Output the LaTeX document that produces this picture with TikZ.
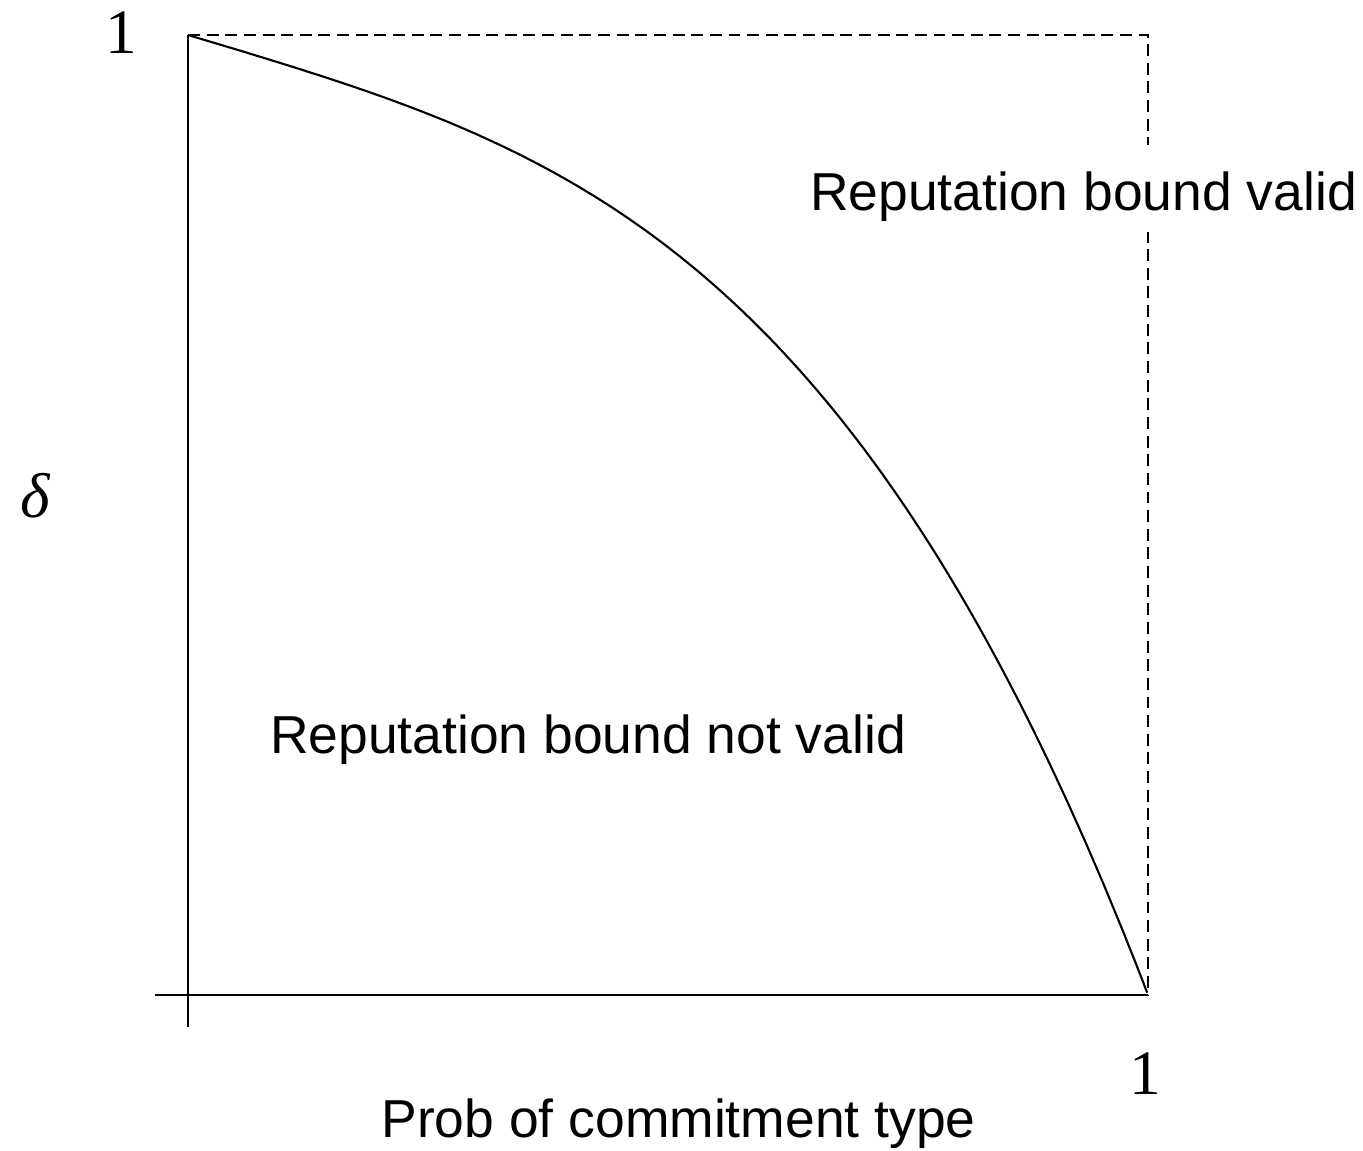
\documentclass[tikz,border=0pt]{standalone}
\usepackage{fontspec}
\setmainfont{Liberation Serif}
\newfontfamily\labelfont{Liberation Sans}
\begin{document}
\begin{tikzpicture}[x=0.01cm,y=-0.01cm,
  axisline/.style={line width=0.6pt},
  guideline/.style={line width=0.6pt, dash pattern=on 3.4pt off 1.9pt},
  curveline/.style={line width=0.6pt, line join=round},
  sanslabel/.style={font=\labelfont\fontsize{15.2pt}{18pt}\selectfont, inner sep=0pt, anchor=base},
  seriflabel/.style={font=\fontsize{18pt}{21pt}\selectfont, inner sep=0pt, anchor=base}]
\useasboundingbox (0,0) rectangle (1363,1151);
% coordinates
\coordinate (ytop) at (188,35);
\coordinate (ybot) at (188,1027);
\coordinate (xleft) at (155,995);
\coordinate (xright) at (1148,995);
\coordinate (corner) at (1148,35);
% axes
\draw[axisline] (ybot) -- (ytop);
\draw[axisline] (xleft) -- (xright);
% dashed box
\draw[guideline] (ytop) -- (corner) -- (xright);
% curve
\draw[curveline] (ytop) -- plot[domain=0.002:1, samples=160, variable=\t]
  ({188+960*\t}, {35+960*(0.3*\t+0.7*pow(\t,3.3))});
% labels
\node[sanslabel, fill=white, text height=0.65cm, text depth=0.22cm] (valid) at (1083.5,210) {Reputation bound valid};
\node[sanslabel] (notvalid) at (588,753) {Reputation bound not valid};
\node[sanslabel] (xlabel) at (678.5,1137) {Prob of commitment type};
\node[seriflabel] (yone) at (121,53) {1};
\node[seriflabel] (xone) at (1145.5,1094) {1};
\node[seriflabel] (delta) at (35,517) {\itshape δ};
\end{tikzpicture}
\end{document}
